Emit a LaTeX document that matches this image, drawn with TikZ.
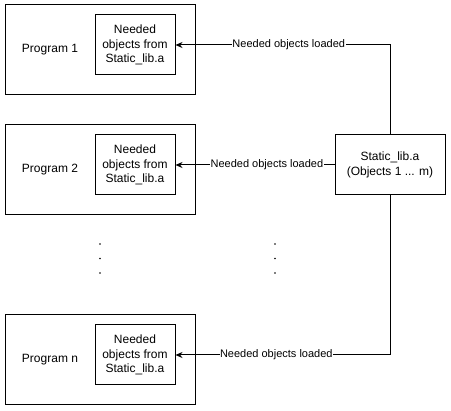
\documentclass[tikz,border=0pt]{standalone}
\usepackage{fontspec}
\setmainfont{Liberation Sans}
\usetikzlibrary{arrows.meta}
\begin{document}
\begin{tikzpicture}[x=1pt,y=-1pt,
  outerbox/.style={draw, line width=1pt, minimum width=190pt, minimum height=90pt, inner sep=0pt},
  innerbox/.style={draw, line width=1pt, minimum width=80pt, minimum height=60pt, inner sep=0pt, align=center, font=\fontsize{12}{14.5}\selectfont},
  libbox/.style={draw, line width=1pt, minimum width=110pt, minimum height=60pt, inner sep=0pt, align=center, font=\fontsize{12}{14.5}\selectfont},
  plabel/.style={font=\fontsize{12}{14.5}\selectfont, inner sep=0pt},
  elabel/.style={fill=white, font=\fontsize{11}{13}\selectfont, inner sep=0.5pt},
  conn/.style={line width=1pt, -{Stealth[length=7pt,width=6pt]}},
  dotmark/.style={fill=black}
]
\useasboundingbox (0,0) rectangle (451,411);

% program boxes
\node[outerbox] (p1) at (100,50) {};
\node[plabel] (t1) at (50,50) {Program 1};
\node[innerbox] (i1) at (135,45) {Needed\\objects from\\Static\_lib.a};

\node[outerbox] (p2) at (100,170) {};
\node[plabel] (t2) at (50,170) {Program 2};
\node[innerbox] (i2) at (135,165) {Needed\\objects from\\Static\_lib.a};

\node[outerbox] (pn) at (100,360) {};
\node[plabel] (tn) at (50,360) {Program n};
\node[innerbox] (in) at (135,355) {Needed\\objects from\\Static\_lib.a};

% library
\node[libbox] (lib) at (390,165) {Static\_lib.a\\(Objects 1 ... m)};

% connectors
\draw[conn] (lib.north) |- (i1.east) node[elabel, pos=0.736] {Needed objects loaded};
\draw[conn] (lib.west) -- (i2.east) node[elabel, pos=0.425] {Needed objects loaded};
\draw[conn] (lib.south) |- (in.east) node[elabel, pos=0.765] {Needed objects loaded};

% vertical dots
\foreach \y in {244,258.5,273} {
  \fill[dotmark] (100,\y) circle (0.9);
  \fill[dotmark] (275,\y) circle (0.9);
}
\end{tikzpicture}
\end{document}
